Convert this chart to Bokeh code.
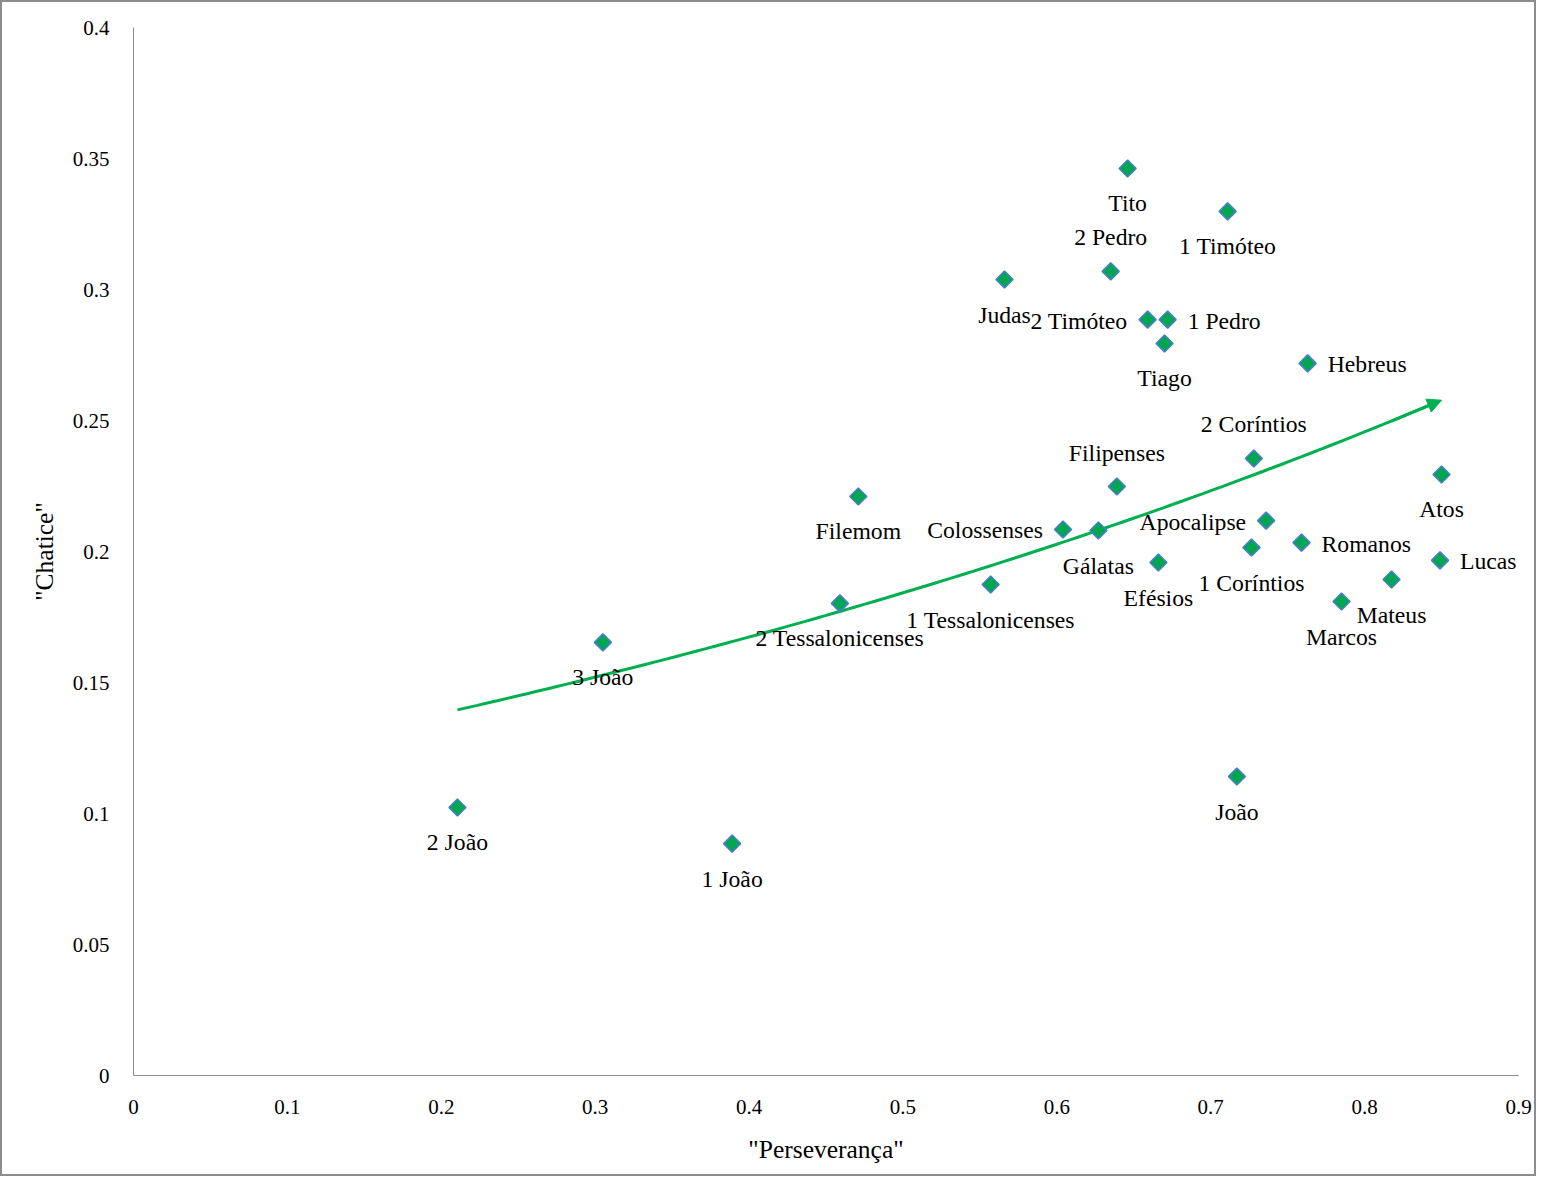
import numpy as np
from bokeh.plotting import figure
from bokeh.models import ColumnDataSource, Range1d, FixedTicker, Arrow, NormalHead
from bokeh.core.properties import value
from bokeh.embed import file_html
from bokeh.resources import INLINE

# ---- data ----
books = ["Tito", "1 Timóteo", "2 Pedro", "Judas", "2 Timóteo", "1 Pedro", "Tiago",
         "Hebreus", "2 Coríntios", "Atos", "Filipenses", "Filemom", "Colossenses",
         "Gálatas", "Apocalipse", "1 Coríntios", "Romanos", "Lucas", "Efésios",
         "1 Tessalonicenses", "Mateus", "Marcos", "2 Tessalonicenses", "3 João",
         "João", "2 João", "1 João"]
perseveranca = [0.646, 0.711, 0.635, 0.566, 0.659, 0.672, 0.670,
                0.763, 0.728, 0.850, 0.639, 0.471, 0.604,
                0.627, 0.736, 0.7265, 0.759, 0.849, 0.666,
                0.557, 0.8175, 0.785, 0.459, 0.305,
                0.717, 0.2105, 0.389]
chatice = [0.3462, 0.3298, 0.3069, 0.3038, 0.2885, 0.2885, 0.2794,
           0.2718, 0.2355, 0.2294, 0.2248, 0.2210, 0.2084,
           0.2080, 0.2118, 0.2015, 0.2034, 0.1966, 0.1958,
           0.1874, 0.1893, 0.1809, 0.1802, 0.1653,
           0.1141, 0.1023, 0.0885]
label_pos = ["b", "b", "a", "b", "l", "r", "b",
             "r", "a", "b", "a", "b", "l",
             "b", "l", "b", "r", "r", "b",
             "b", "b", "b", "b", "b",
             "b", "b", "b"]

x_ticks = [0, 0.1, 0.2, 0.3, 0.4, 0.5, 0.6, 0.7, 0.8, 0.9]
x_tick_labels = ["0", "0.1", "0.2", "0.3", "0.4", "0.5", "0.6", "0.7", "0.8", "0.9"]
y_ticks = [0, 0.05, 0.1, 0.15, 0.2, 0.25, 0.3, 0.35, 0.4]
y_tick_labels = ["0", "0.05", "0.1", "0.15", "0.2", "0.25", "0.3", "0.35", "0.4"]

FONT = "Liberation Serif"

p = figure(width=1536, height=1176, output_backend="svg", toolbar_location=None,
           x_range=Range1d(0, 0.9), y_range=Range1d(0, 0.4),
           min_border_left=131, min_border_right=20, min_border_top=25, min_border_bottom=103)
p.styles = {"border": "2px solid #8c8c8c"}
p.outline_line_color = None
p.grid.visible = False
p.background_fill_color = "white"
p.border_fill_color = "white"

for ax in (p.xaxis[0], p.yaxis[0]):
    ax.axis_line_color = "#8c8c8c"
    ax.axis_line_width = 1
    ax.major_tick_line_color = None
    ax.minor_tick_line_color = None
    ax.major_tick_out = 0
    ax.major_tick_in = 0
    ax.minor_tick_out = 0
    ax.major_label_text_font = FONT
    ax.major_label_text_font_size = "21px"
    ax.major_label_text_color = "black"
    ax.axis_label_text_font = FONT
    ax.axis_label_text_font_size = "25.5px"
    ax.axis_label_text_font_style = "normal"
    ax.axis_label_text_color = "black"

p.xaxis.ticker = FixedTicker(ticks=x_ticks)
p.xaxis.major_label_overrides = {t: l for t, l in zip(x_ticks, x_tick_labels)}
p.yaxis.ticker = FixedTicker(ticks=y_ticks)
p.yaxis.major_label_overrides = {t: l for t, l in zip(y_ticks, y_tick_labels)}
p.xaxis.axis_label = '"Perseverança"'
p.yaxis.axis_label = '"Chatice"'
p.xaxis.major_label_standoff = 24
p.yaxis.major_label_standoff = 24
p.xaxis.axis_label_standoff = 18
p.yaxis.axis_label_standoff = 11

# ---- exponential trendline fitted from the data ----
xs = np.array(perseveranca)
ys = np.array(chatice)
b, lna = np.polyfit(xs, np.log(ys), 1)
tx = np.linspace(xs.min(), xs.max(), 100)
ty = np.exp(lna) * np.exp(b * tx)
p.line(tx[:-1], ty[:-1], line_color="#00B050", line_width=3)
p.add_layout(Arrow(end=NormalHead(size=14, fill_color="#00B050", line_color="#00B050"),
                   x_start=tx[-6], y_start=ty[-6], x_end=tx[-1], y_end=ty[-1],
                   line_color="#00B050", line_width=3))

# ---- points ----
src = ColumnDataSource(dict(x=perseveranca, y=chatice))
p.scatter("x", "y", source=src, marker="square", angle=np.pi / 4, size=12,
          fill_color="#00A650", line_color="#4A7EC8", line_width=1.6)

# ---- labels ----
offx = {"b": 0, "a": 0, "l": -20, "r": 20}
offy = {"b": 35, "a": -34, "l": 1, "r": 1}
align = {"b": "center", "a": "center", "l": "right", "r": "left"}
lsrc = ColumnDataSource(dict(
    x=perseveranca, y=chatice, t=books,
    xo=[offx[k] for k in label_pos], yo=[offy[k] for k in label_pos],
    al=[align[k] for k in label_pos]))
p.text("x", "y", text="t", source=lsrc, x_offset="xo", y_offset="yo",
       text_align="al", text_baseline="middle", text_font=value(FONT),
       text_font_size="23.7px", text_color="black")

open("out.html", "w").write(file_html(p, INLINE))
